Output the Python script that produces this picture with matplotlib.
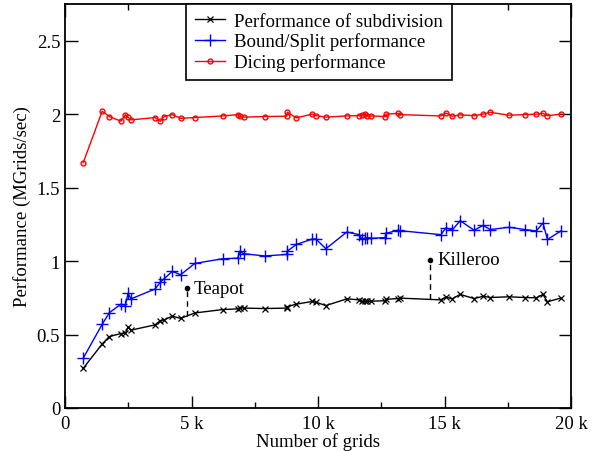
import matplotlib
matplotlib.use("Agg")
import matplotlib.pyplot as plt
from matplotlib.ticker import MultipleLocator, FuncFormatter

plt.rcParams['font.family'] = ['Liberation Serif', 'DejaVu Serif']

grids_k = [0.72, 1.47, 1.75, 2.21, 2.39, 2.49, 2.61, 3.56, 3.77, 3.92, 4.24, 4.57,
           5.13, 6.23, 6.83, 6.90, 7.07, 7.89, 8.76, 8.79, 9.14, 9.77, 9.92, 10.31,
           11.14, 11.63, 11.73, 11.86, 11.95, 12.10, 12.65, 12.70, 13.17, 13.24,
           14.86, 15.06, 15.30, 15.62, 16.17, 16.53, 16.80, 17.55, 18.18, 18.63,
           18.89, 19.07, 19.59]

subdivision = [0.27, 0.436, 0.486, 0.507, 0.509, 0.55, 0.53, 0.566, 0.595, 0.60, 0.625, 0.61,
               0.647, 0.67, 0.675, 0.684, 0.68, 0.677, 0.68, 0.69, 0.707, 0.725, 0.72, 0.697,
               0.743, 0.736, 0.725, 0.725, 0.725, 0.727, 0.73, 0.74, 0.745, 0.748,
               0.736, 0.755, 0.743, 0.773, 0.745, 0.761, 0.752, 0.757, 0.752, 0.75,
               0.773, 0.723, 0.748]

bound_split = [0.339, 0.57, 0.648, 0.707, 0.697, 0.78, 0.743, 0.81, 0.857, 0.88, 0.93, 0.907,
               0.984, 1.016, 1.02, 1.066, 1.05, 1.035, 1.045, 1.068, 1.113, 1.15, 1.15, 1.084,
               1.198, 1.18, 1.15, 1.155, 1.16, 1.155, 1.16, 1.19, 1.21, 1.207,
               1.18, 1.227, 1.21, 1.275, 1.21, 1.243, 1.215, 1.23, 1.215, 1.205,
               1.26, 1.147, 1.204]

dicing = [1.67, 2.02, 1.984, 1.952, 1.997, 1.98, 1.961, 1.977, 1.952, 1.984, 1.997, 1.972,
          1.977, 1.988, 1.997, 1.986, 1.98, 1.984, 1.986, 2.013, 1.975, 2.0, 1.99, 1.98,
          1.988, 1.99, 1.993, 2.004, 1.986, 1.988, 1.984, 2.0, 2.006, 1.997,
          1.988, 2.008, 1.986, 1.995, 1.99, 2.0, 2.013, 1.993, 1.997, 2.0,
          2.006, 1.99, 2.0]

annot_labels = ["Teapot", "Killeroo"]
annot_x = [4.82, 14.43]
annot_top = [0.816, 1.009]
annot_bottom = [0.625, 0.743]

fig = plt.figure(figsize=(5.96, 4.52), dpi=100)
ax = fig.add_axes([65/596, 43/452, 506/596, 404/452])

ax.plot(grids_k, subdivision, color='black', lw=1, marker='x', ms=4, mew=0.9,
        label='Performance of subdivision')
ax.plot(grids_k, bound_split, color='blue', lw=1, marker='+', ms=8, mew=1,
        label='Bound/Split performance')
ax.plot(grids_k, dicing, color='red', lw=1, marker='o', ms=3.5, mew=1, mfc='none',
        label='Dicing performance')

for lab, x, yt, yb in zip(annot_labels, annot_x, annot_top, annot_bottom):
    ax.plot([x, x], [yb, yt], color='black', lw=1, ls=(0, (4, 3)))
    ax.plot([x], [yt], marker='o', color='black', ms=3)
    ax.annotate(lab, (x, yt), xytext=(5, 0), textcoords='offset points',
                fontsize=13.5, va='center', ha='left')

ax.set_xlim(0, 20)
ax.set_ylim(0, 2.75)
ax.xaxis.set_major_locator(MultipleLocator(5))
ax.xaxis.set_minor_locator(MultipleLocator(2.5))
ax.yaxis.set_major_locator(MultipleLocator(0.5))
ax.xaxis.set_major_formatter(FuncFormatter(lambda v, p: '0' if v == 0 else f'{int(v)} k'))
ax.yaxis.set_major_formatter(FuncFormatter(lambda v, p: f'{v:g}'))
ax.tick_params(which='both', direction='in', top=True, right=True, labelsize=13.5)
ax.tick_params(axis='x', which='major', pad=5)
ax.tick_params(which='major', length=9, width=1)
ax.tick_params(which='minor', length=4.5, width=1)
for s in ax.spines.values():
    s.set_linewidth(1.3)

ax.set_xlabel('Number of grids', fontsize=13.5, labelpad=0)
ax.set_ylabel('Performance (MGrids/sec)', fontsize=13.5, labelpad=4)

leg = ax.legend(loc='upper left', bbox_to_anchor=(121/506, 1.0), fontsize=13.6,
                frameon=True, fancybox=False, edgecolor='black', framealpha=1,
                handlelength=1.6, handletextpad=0.5, borderpad=0.45, labelspacing=0.15,
                borderaxespad=0)
leg.get_frame().set_linewidth(1.2)

fig.savefig('out.png', dpi=100)
